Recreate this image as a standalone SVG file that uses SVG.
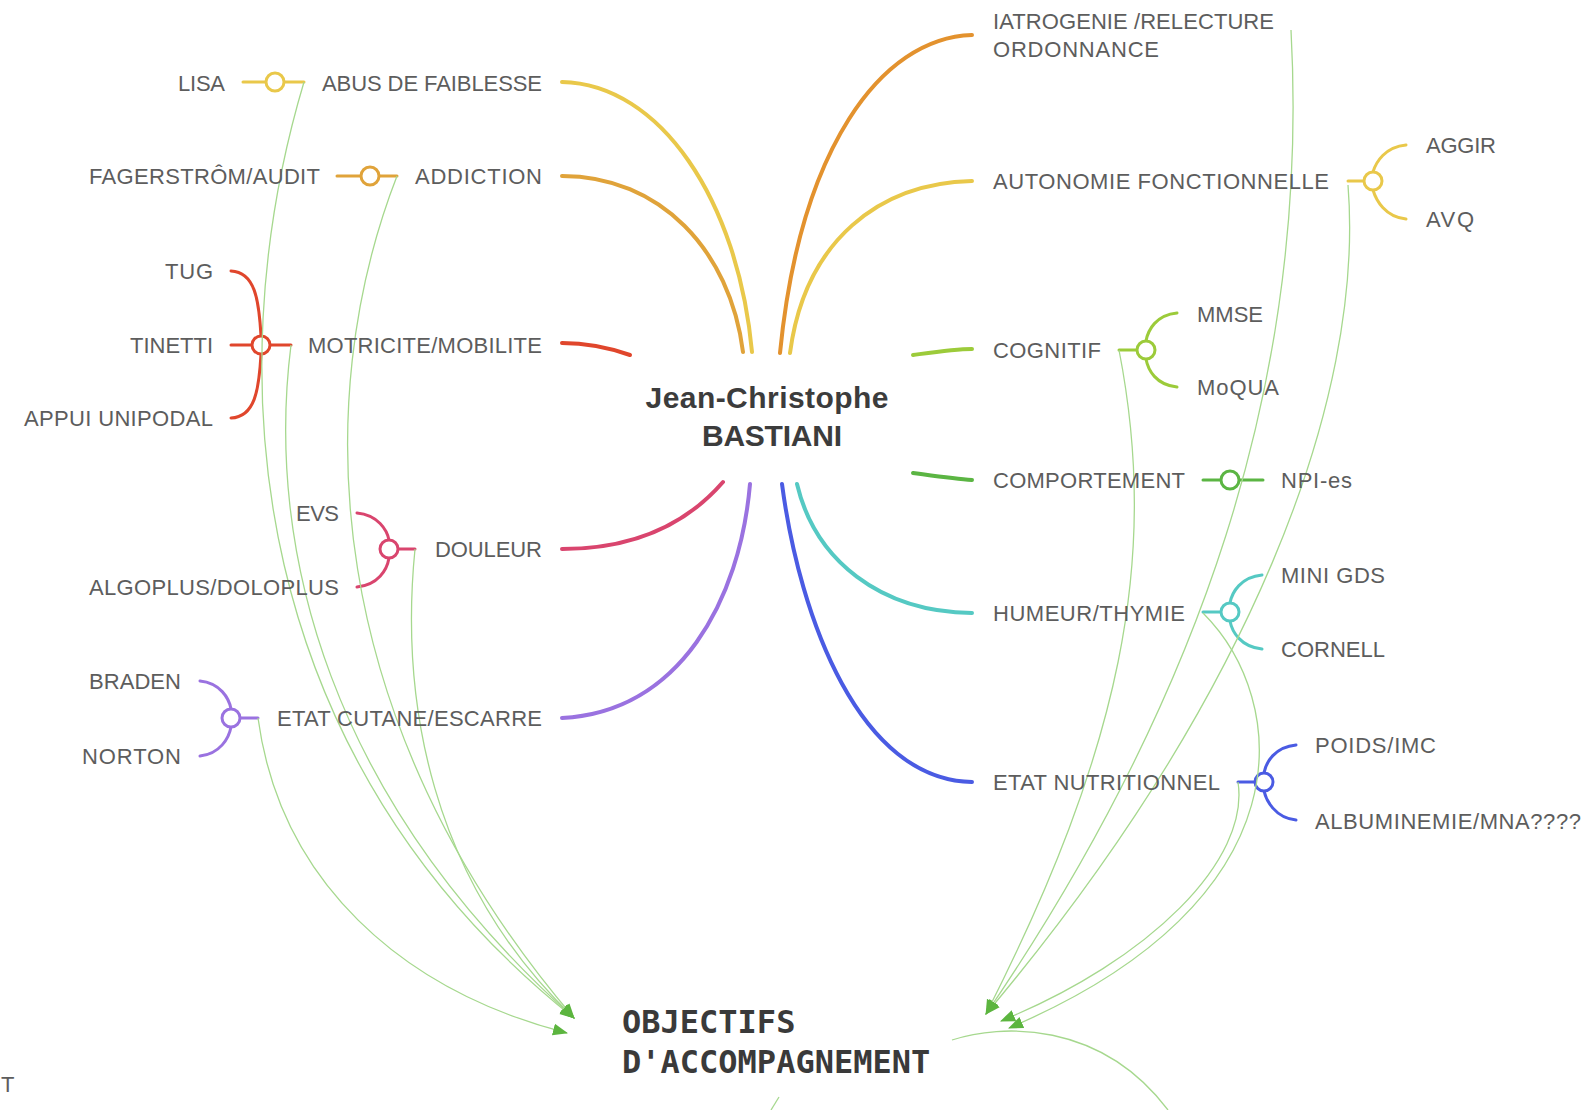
<svg xmlns="http://www.w3.org/2000/svg" width="1588" height="1110" viewBox="0 0 1588 1110">
<defs>
<style>
.lbl{font-family:"Liberation Sans",Arial,sans-serif;font-size:22px;fill:#5d5d5d}
.ctr{font-family:"Liberation Sans",Arial,sans-serif;font-size:30px;font-weight:bold;fill:#3c3c3c;text-anchor:middle}
.obj{font-family:"DejaVu Sans Mono","Liberation Mono",monospace;font-size:32px;font-weight:bold;fill:#3a3a3a}
.br{fill:none;stroke-width:4;stroke-linecap:round}
.hub{fill:none;stroke-width:3;stroke-linecap:round}
.hc{fill:#ffffff;stroke-width:3}
.cn{fill:none;stroke:#a6d88e;stroke-width:1.3}
.ar{marker-end:url(#arr)}
.yel{stroke:#e9c84a}.org{stroke:#e0a33a}.ora{stroke:#e3922e}.red{stroke:#e0462c}
.pnk{stroke:#d9456e}.pur{stroke:#9a72e0}.ygr{stroke:#9ccb3a}.grn{stroke:#5bb543}
.tea{stroke:#55c9c3}.blu{stroke:#4a5be3}
</style>
<marker id="arr" markerWidth="16" markerHeight="14" refX="14" refY="7" orient="auto" markerUnits="userSpaceOnUse">
<path d="M0,1 L15,7 L0,13 Z" fill="#5cb53f"/>
</marker>
</defs>
<rect width="1588" height="1110" fill="#ffffff"/>

<g id="connectors">
<path class="br yel" d="M562,82 C660,84 738,200 752,352"/>
<path class="br org" d="M562,176 C660,176 730,250 743,352"/>
<path class="br ora" d="M972,35 C880,38 800,150 780,353"/>
<path class="br yel" d="M972,181 C880,183 805,240 790,353"/>
<path class="br red" d="M562,343 C590,343 610,348 630,355"/>
<path class="br ygr" d="M913,355 C935,352 955,349 972,349"/>
<path class="br grn" d="M913,473 C935,476 955,479 972,480"/>
<path class="br pnk" d="M562,549 C640,549 690,520 723,482"/>
<path class="br pur" d="M562,718 C680,712 740,600 750,484"/>
<path class="br tea" d="M972,613 C880,612 815,560 797,484"/>
<path class="br blu" d="M972,782 C860,780 800,620 782,484"/>

<path class="hub yel" d="M243,82 H304"/>
<circle class="hc yel" cx="275" cy="82" r="9"/>
<path class="hub org" d="M337,176 H397"/>
<circle class="hc org" cx="370" cy="176" r="9"/>
<path class="hub red" d="M231,345 H291 M231,271 C255,272 259,300 261,336 M231,418 C255,417 259,390 261,354"/>
<circle class="hc red" cx="261" cy="345" r="9"/>
<path class="hub pnk" d="M389,549 H415 M357,513 C378,515 387,530 389,540 M357,587 C378,585 387,570 389,558"/>
<circle class="hc pnk" cx="389" cy="549" r="9"/>
<path class="hub pur" d="M231,718 H258 M200,681 C220,683 229,698 231,709 M200,756 C220,754 229,738 231,727"/>
<circle class="hc pur" cx="231" cy="718" r="9"/>

<path class="hub yel" d="M1348,181 H1373 M1406,145 C1385,147 1376,162 1373,172 M1406,219 C1385,217 1376,200 1373,190"/>
<circle class="hc yel" cx="1373" cy="181" r="9"/>
<path class="hub ygr" d="M1119,350 H1146 M1177,313 C1156,315 1148,330 1146,341 M1177,387 C1156,385 1148,370 1146,359"/>
<circle class="hc ygr" cx="1146" cy="350" r="9"/>
<path class="hub grn" d="M1203,480 H1263"/>
<circle class="hc grn" cx="1230" cy="480" r="9"/>
<path class="hub tea" d="M1203,612 H1230 M1262,575 C1241,577 1232,592 1230,603 M1262,649 C1241,647 1232,632 1230,621"/>
<circle class="hc tea" cx="1230" cy="612" r="9"/>
<path class="hub blu" d="M1238,782 H1264 M1296,745 C1275,747 1266,762 1264,773 M1296,820 C1275,818 1266,800 1264,791"/>
<circle class="hc blu" cx="1264" cy="782" r="9"/>

<path class="cn ar" d="M304,82 C215,380 250,760 574,1018"/>
<path class="cn ar" d="M397,176 C310,400 320,720 574,1018"/>
<path class="cn ar" d="M291,345 C265,550 330,800 574,1018"/>
<path class="cn ar" d="M415,549 C400,700 430,880 574,1018"/>
<path class="cn ar" d="M258,718 C280,880 400,990 567,1033"/>
<path class="cn ar" d="M1291,30 C1310,380 1200,700 986,1014"/>
<path class="cn ar" d="M1348,185 C1365,400 1250,700 986,1014"/>
<path class="cn ar" d="M1119,350 C1160,560 1120,750 986,1014"/>
<path class="cn ar" d="M1238,782 C1250,860 1150,960 1001,1021"/>
<path class="cn ar" d="M1203,613 C1290,700 1310,900 1009,1028"/>
<path class="cn" d="M952,1040 C1000,1024 1100,1020 1168,1110"/>
<path class="cn" d="M771,1110 L779,1097"/>
</g>

<g id="node-center"><text class="ctr" x="767" y="408" textLength="243">Jean-Christophe</text><text class="ctr" x="772" y="446" textLength="140">BASTIANI</text></g>

<g id="node-abus"><text class="lbl" x="542" y="91" text-anchor="end" textLength="220">ABUS DE FAIBLESSE</text></g>
<g id="node-lisa"><text class="lbl" x="225" y="91" text-anchor="end" textLength="47">LISA</text></g>
<g id="node-addiction"><text class="lbl" x="542" y="184" text-anchor="end" textLength="127">ADDICTION</text></g>
<g id="node-fagerstrom"><text class="lbl" x="320" y="184" text-anchor="end" textLength="231">FAGERSTRÔM/AUDIT</text></g>
<g id="node-motricite"><text class="lbl" x="542" y="353" text-anchor="end" textLength="234">MOTRICITE/MOBILITE</text></g>
<g id="node-tug"><text class="lbl" x="213" y="279" text-anchor="end" textLength="48">TUG</text></g>
<g id="node-tinetti"><text class="lbl" x="213" y="353" text-anchor="end" textLength="83">TINETTI</text></g>
<g id="node-appui"><text class="lbl" x="213" y="426" text-anchor="end" textLength="189">APPUI UNIPODAL</text></g>
<g id="node-douleur"><text class="lbl" x="542" y="557" text-anchor="end" textLength="107">DOULEUR</text></g>
<g id="node-evs"><text class="lbl" x="339" y="521" text-anchor="end" textLength="43">EVS</text></g>
<g id="node-algoplus"><text class="lbl" x="339" y="595" text-anchor="end" textLength="250">ALGOPLUS/DOLOPLUS</text></g>
<g id="node-cutane"><text class="lbl" x="542" y="726" text-anchor="end" textLength="265">ETAT CUTANE/ESCARRE</text></g>
<g id="node-braden"><text class="lbl" x="181" y="689" text-anchor="end" textLength="92">BRADEN</text></g>
<g id="node-norton"><text class="lbl" x="181" y="764" text-anchor="end" textLength="99">NORTON</text></g>

<g id="node-iatrogenie"><text class="lbl" x="993" y="29" textLength="281">IATROGENIE /RELECTURE</text><text class="lbl" x="993" y="57" textLength="166">ORDONNANCE</text></g>
<g id="node-autonomie"><text class="lbl" x="993" y="189" textLength="336">AUTONOMIE FONCTIONNELLE</text></g>
<g id="node-aggir"><text class="lbl" x="1426" y="153" textLength="70">AGGIR</text></g>
<g id="node-avq"><text class="lbl" x="1426" y="227" textLength="48">AVQ</text></g>
<g id="node-cognitif"><text class="lbl" x="993" y="358" textLength="108">COGNITIF</text></g>
<g id="node-mmse"><text class="lbl" x="1197" y="322" textLength="66">MMSE</text></g>
<g id="node-moqua"><text class="lbl" x="1197" y="395" textLength="82">MoQUA</text></g>
<g id="node-comportement"><text class="lbl" x="993" y="488" textLength="192">COMPORTEMENT</text></g>
<g id="node-npi"><text class="lbl" x="1281" y="488" textLength="71">NPI-es</text></g>
<g id="node-humeur"><text class="lbl" x="993" y="621" textLength="192">HUMEUR/THYMIE</text></g>
<g id="node-minigds"><text class="lbl" x="1281" y="583" textLength="104">MINI GDS</text></g>
<g id="node-cornell"><text class="lbl" x="1281" y="657" textLength="104">CORNELL</text></g>
<g id="node-nutrition"><text class="lbl" x="993" y="790" textLength="227">ETAT NUTRITIONNEL</text></g>
<g id="node-poids"><text class="lbl" x="1315" y="753" textLength="121">POIDS/IMC</text></g>
<g id="node-albumine"><text class="lbl" x="1315" y="829" textLength="266">ALBUMINEMIE/MNA????</text></g>

<g id="node-objectifs"><text class="obj" x="622" y="1033">OBJECTIFS</text><text class="obj" x="622" y="1073">D'ACCOMPAGNEMENT</text></g>
<g id="node-edge"><text class="lbl" x="1" y="1092" fill="#777777">T</text></g>
</svg>
